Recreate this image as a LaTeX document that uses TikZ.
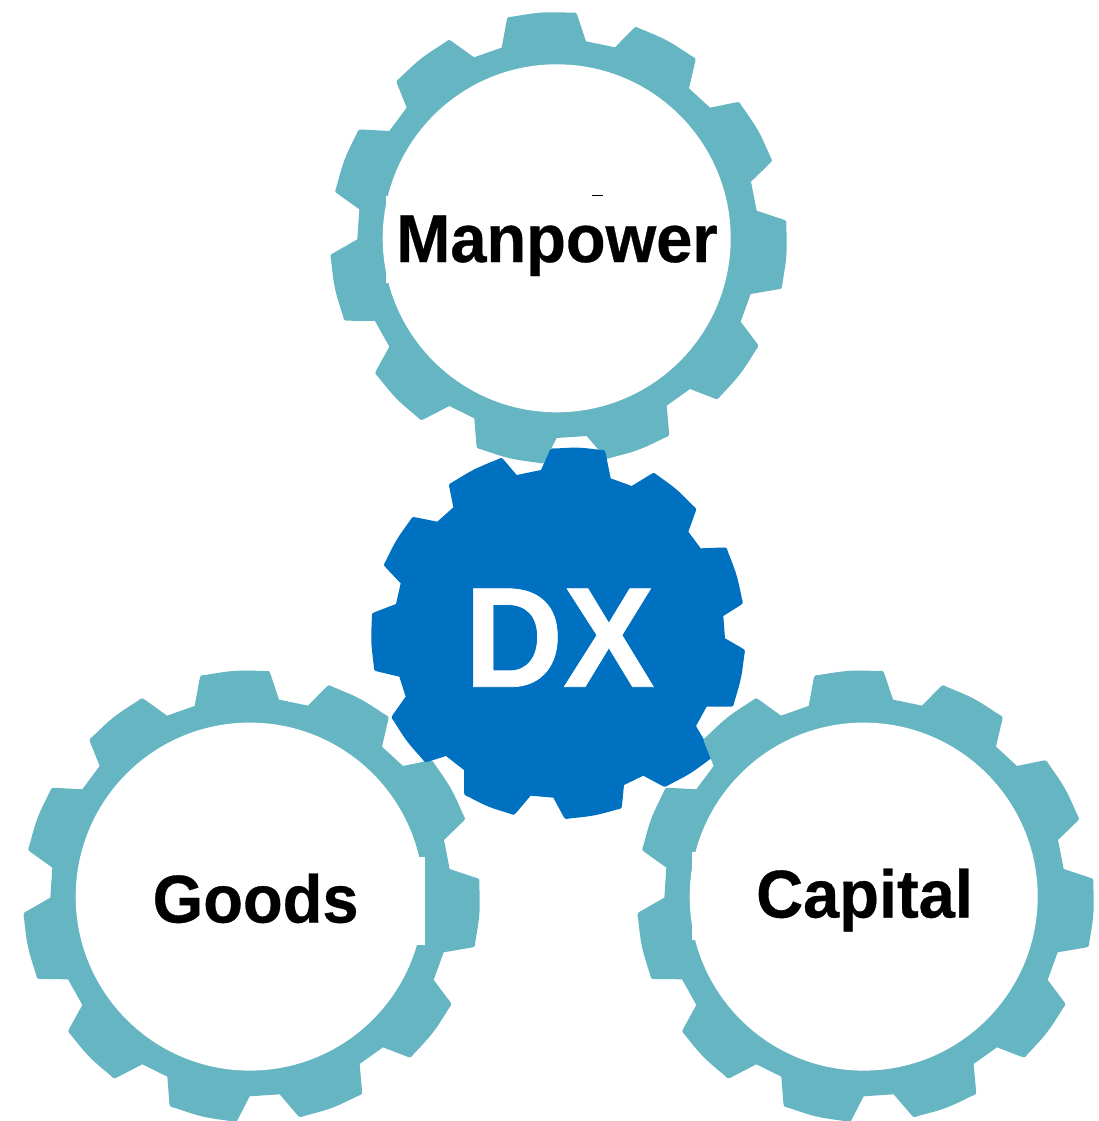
\documentclass[tikz,border=0pt]{standalone}
\usepackage{fontspec}
\usetikzlibrary{calc}
\setmainfont{Liberation Sans}[BoldFeatures={FakeBold=0.5}]
\definecolor{gearteal}{HTML}{65B5C2}
\definecolor{gearblue}{HTML}{0070C0}
\def\cr{5pt}
\def\tooth#1#2#3#4{-- (#1) -- ($(#2)!\cr!(#1)$) .. controls (#2) .. ($(#2)!\cr!(#3)$) .. controls ($($(#2)!.5!(#3)$)!\sag!90:(#3)$) .. ($(#3)!\cr!(#2)$) .. controls (#3) .. ($(#3)!\cr!(#4)$) -- (#4)}
\def\ringgear{(545,143)
 \tooth{545,143}{562,51}{769,37}{798,124}
 \tooth{885,142}{947,79}{1128,175}{1107,265}
 \tooth{1170,323}{1258,305}{1358,482}{1293,545}
 \tooth{1310,632}{1400,662}{1386,866}{1292,882}
 \tooth{1262,965}{1317,1038}{1193,1199}{1110,1167}
 \tooth{1040,1217}{1048,1308}{860,1378}{800,1308}
 \tooth{710,1314}{670,1392}{470,1345}{463,1255}
 \tooth{388,1218}{303,1262}{164,1120}{208,1040}
 \tooth{165,963}{72,962}{30,765}{112,718}
 \tooth{118,628}{44,575}{115,388}{208,393}
 \tooth{260,323}{228,243}{387,118}{462,172} -- cycle}
\def\bluegear{(543,120)
 \tooth{543,120}{572,55}{735,60}{752,145}
 \tooth{815,168}{882,127}{1010,236}{985,305}
 \tooth{1022,355}{1100,352}{1150,520}{1090,558}
 \tooth{1095,625}{1156,660}{1120,830}{1040,830}
 \tooth{1008,888}{1062,980}{915,1072}{850,1037}
 \tooth{792,1065}{785,1136}{615,1168}{580,1103}
 \tooth{512,1097}{462,1156}{312,1095}{312,1020}
 \tooth{258,978}{195,998}{93,862}{137,800}
 \tooth{118,740}{42,722}{35,550}{108,522}
 \tooth{122,460}{70,405}{157,260}{232,275}
 \tooth{280,232}{266,162}{425,82}{470,135} -- cycle}
\tikzset{
  gearscope/.style={x=0.33333pt,y=-0.33333pt},
  tealfill/.style={fill=gearteal},
  bluefill/.style={fill=gearblue},
  hole/.style={circle,fill=white,inner sep=0pt,minimum size=348pt},
  patchbox/.style={fill=white},
  gearlabel/.style={anchor=base west,inner sep=0pt,text=black,transform shape,yscale=1.04,font=\bfseries\fontsize{65}{70}\selectfont},
  dxlabel/.style={anchor=base west,inner sep=0pt,text=white,transform shape,yscale=1.04,font=\bfseries\fontsize{137}{140}\selectfont}
}
\begin{document}
\begin{tikzpicture}[x=1pt,y=-1pt]
\path[use as bounding box] (0,0) rectangle (1099,1121);
% top gear
\def\sag{2.8pt}
\begin{scope}[gearscope,shift={(320pt,0pt)}]
\fill[tealfill] \ringgear;
\end{scope}
\node[hole] (manhole) at (556.7,238.3) {};
\fill[patchbox] (385.7,195.7) rectangle (410,283);
\draw[black,line width=1pt] (592,195) -- (603,195);
% goods gear
\begin{scope}[gearscope,shift={(13pt,-658.3pt)}]
\fill[tealfill] \ringgear;
\end{scope}
\node[hole] (goodshole) at (249.7,896.6) {};
\fill[patchbox] (400,856.7) rectangle (425,945);
% centre gear
\def\sag{2pt}
\begin{scope}[gearscope,shift={(360pt,-430pt)}]
\fill[bluefill] \bluegear;
\end{scope}
% capital gear
\def\sag{2.8pt}
\begin{scope}[gearscope,shift={(627pt,-658.3pt)}]
\fill[tealfill] \ringgear;
\end{scope}
\node[hole] (capitalhole) at (863.7,896.6) {};
\fill[patchbox] (692,852) rectangle (715,940);
% labels
\node[gearlabel] (manpower) at (396,262) {Manpower};
\node[gearlabel] (goods) at (152.5,922.5) {Goods};
\node[gearlabel] (capital) at (756,917.5) {Capital};
\node[dxlabel] (dx) at (464,686.7) {DX};
\end{tikzpicture}
\end{document}
